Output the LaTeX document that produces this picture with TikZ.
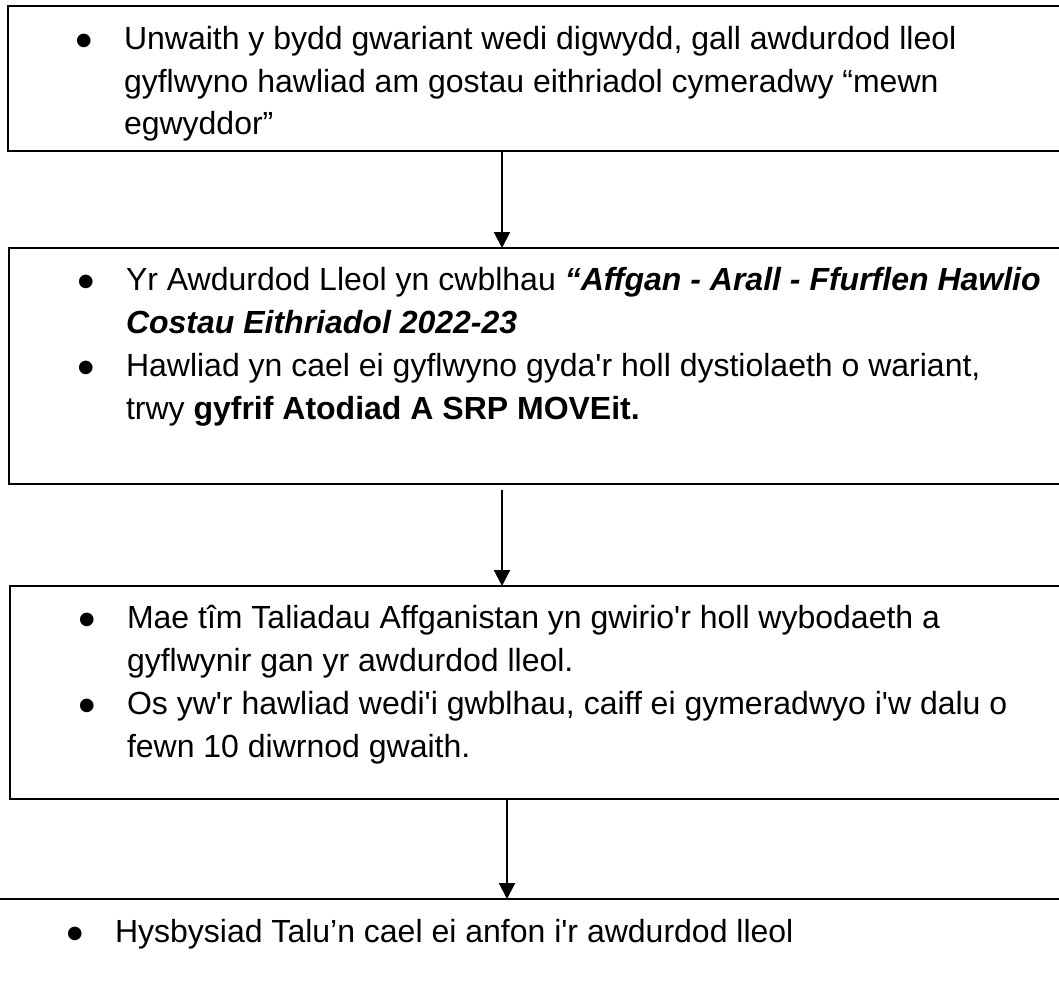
\documentclass[tikz,border=0pt]{standalone}
\usepackage{fontspec}
\setmainfont{Liberation Sans}[Ligatures=TeXOff]
\usetikzlibrary{arrows.meta}
\newcommand{\bul}{\makebox[47pt][l]{\hspace{-2pt}\raisebox{-8pt}{\fontsize{50}{0}\selectfont\textbullet}}}
\begin{document}
\begin{tikzpicture}[x=1pt,y=-1pt,
  box/.style={draw, line width=2.5pt, rectangle, inner sep=0pt, outer sep=0pt, anchor=north west},
  txt/.style={anchor=base west, inner sep=0pt, outer sep=0pt},
  arr/.style={line width=2pt, -{Triangle[width=16pt,length=16pt]}}]
\useasboundingbox (0,0) rectangle (1059,990);
\clip (0,0) rectangle (1059,990);
% boxes
\node[box, minimum width=1080pt, minimum height=145pt] (b1) at (8,6) {};
\node[box, minimum width=1080pt, minimum height=236pt] (b2) at (9,248) {};
\node[box, minimum width=1080pt, minimum height=213pt] (b3) at (10,586) {};
\node[box, minimum width=1100pt, minimum height=200pt] (b4) at (-10,899) {};
% texts
\node[txt] (t1) at (77,50) {\fontsize{32}{42}\selectfont
\begin{tabular}[t]{@{}l@{}l@{}}
\bul & Unwaith y bydd gwariant wedi digwydd, gall awdurdod lleol\\
 & gyflwyno hawliad am gostau eithriadol cymeradwy “mewn\\
 & egwyddor”
\end{tabular}};
\node[txt] (t2) at (79,290) {\fontsize{32}{43.3}\selectfont
\begin{tabular}[t]{@{}l@{}l@{}}
\bul & Yr Awdurdod Lleol yn cwblhau \textbf{\textit{“Affgan - Arall - Ffurflen Hawlio}}\\
 & \textbf{\textit{Costau Eithriadol 2022-23}}\\
\bul & Hawliad yn cael ei gyflwyno gyda'r holl dystiolaeth o wariant,\\
 & trwy \textbf{gyfrif Atodiad A SRP MOVEit.}
\end{tabular}};
\node[txt] (t3) at (80,628) {\fontsize{32}{43.3}\selectfont
\begin{tabular}[t]{@{}l@{}l@{}}
\bul & Mae tîm Taliadau Affganistan yn gwirio'r holl wybodaeth a\\
 & gyflwynir gan yr awdurdod lleol.\\
\bul & Os yw'r hawliad wedi'i gwblhau, caiff ei gymeradwyo i'w dalu o\\
 & fewn 10 diwrnod gwaith.
\end{tabular}};
\node[txt] (t4) at (68,942) {\fontsize{32}{42}\selectfont
\begin{tabular}[t]{@{}l@{}l@{}}
\bul & Hysbysiad Talu’n cael ei anfon i'r awdurdod lleol
\end{tabular}};
% connectors
\coordinate (xa) at (502,0);
\coordinate (xb) at (507,0);
\coordinate (s2) at (502,490);
\draw[arr] (b1.south -| xa) -- (b2.north -| xa);
\draw[arr] (s2) -- (b3.north -| xa);
\draw[arr] (b3.south -| xb) -- (b4.north -| xb);
\end{tikzpicture}
\end{document}
